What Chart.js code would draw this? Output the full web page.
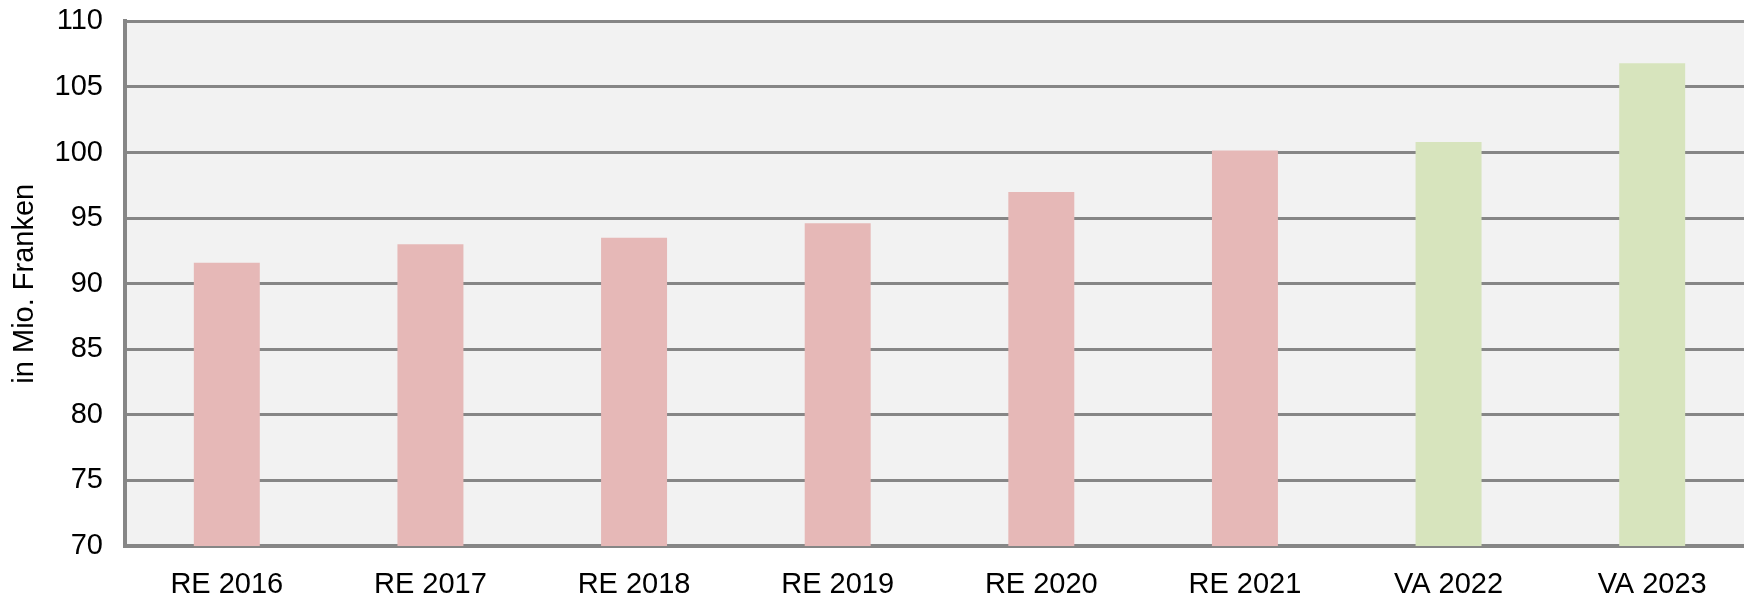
<html lang="de">
<head>
  <meta charset="UTF-8">
  <title>Aufwand in Mio. Franken</title>
  <script src="https://cdn.jsdelivr.net/npm/chart.js"></script>
  <style>
    html, body { margin: 0; padding: 0; background: #fff; overflow: hidden; }
    #wrap { width: 1754px; height: 594px; }
  </style>
</head>
<body>
  <div id="wrap"><canvas id="viz"></canvas></div>
  <script>
    const categories = ['RE 2016', 'RE 2017', 'RE 2018', 'RE 2019', 'RE 2020', 'RE 2021', 'VA 2022', 'VA 2023']
    const values = [91.6, 93.0, 93.5, 94.6, 97.0, 100.15, 100.8, 106.8]
    const yTicks = [70, 75, 80, 85, 90, 95, 100, 105, 110]
    const yTitle = 'in Mio. Franken'

    const grey = '#868686'
    const font = 'Liberation Sans, Arial, sans-serif'

    // RE = Rechnung (rot), VA = Voranschlag (grün)
    const barColors = categories.map(c => c.startsWith('VA') ? '#D7E4BD' : '#E6B8B7')

    const plotBg = {
      id: 'plotBg',
      beforeDraw(chart) {
        const { ctx, chartArea: a } = chart
        ctx.save()
        ctx.fillStyle = '#F2F2F2'
        ctx.fillRect(a.left, a.top, a.right - a.left, a.bottom - a.top)
        ctx.restore()
      }
    }

    new Chart(document.getElementById('viz'), {
      type: 'bar',
      data: {
        labels: categories,
        datasets: [{
          data: values,
          backgroundColor: barColors,
          borderWidth: 0,
          categoryPercentage: 1,
          barPercentage: 0.324
        }]
      },
      options: {
        responsive: true,
        maintainAspectRatio: false,
        animation: false,
        layout: { padding: 0 },
        plugins: { legend: { display: false }, tooltip: { enabled: false } },
        scales: {
          x: {
            grid: { display: false },
            border: { display: true, color: grey, width: 4 },
            ticks: { color: '#000', font: { family: font, size: 29 }, padding: 14, maxRotation: 0 },
            afterFit(s) { s.height = 48 }
          },
          y: {
            min: 70,
            max: 110,
            afterBuildTicks(s) { s.ticks = yTicks.map(v => ({ value: v })) },
            grid: { color: grey, lineWidth: 3, tickLength: 18, tickColor: 'rgba(0,0,0,0)' },
            border: { display: true, color: grey, width: 4 },
            ticks: { color: '#000', font: { family: font, size: 29 }, padding: 4 },
            title: {
              display: true,
              text: yTitle,
              color: '#000',
              font: { family: font, size: 29 },
              padding: { top: 8, bottom: 0 }
            },
            afterFit(s) { s.width = 125 }
          }
        }
      },
      plugins: [plotBg]
    })
  </script>
</body>
</html>
